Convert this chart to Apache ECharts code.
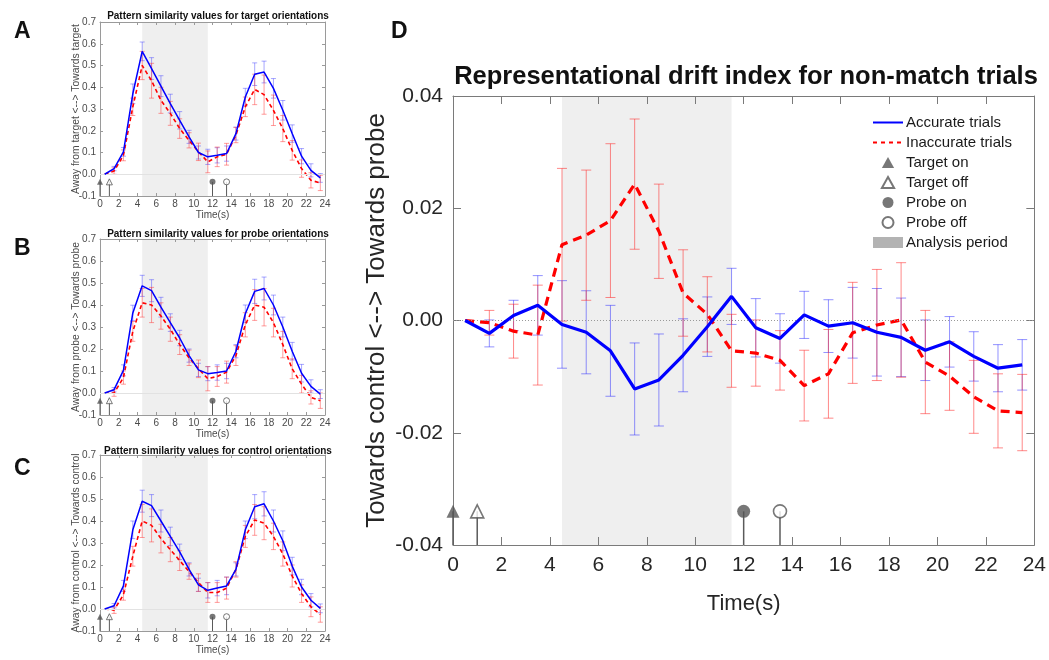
<!DOCTYPE html>
<html>
<head>
<meta charset="utf-8">
<script src="https://cdn.jsdelivr.net/npm/echarts@6/dist/echarts.min.js"></script>
<style>
  html, body { margin: 0; background: #fff; }
  #main { width: 1049px; height: 660px; }
</style>
</head>
<body>
<div id="main"></div>
<script>
var FONT = 'Liberation Sans, Arial, Helvetica, sans-serif';

// time bins (s)
var times = [0.5, 1.5, 2.5, 3.5, 4.5, 5.5, 6.5, 7.5, 8.5, 9.5, 10.5, 11.5,
             12.5, 13.5, 14.5, 15.5, 16.5, 17.5, 18.5, 19.5, 20.5, 21.5, 22.5, 23.5];
var eventTimes = [0, 1, 12, 13.5];
var eventNames = ['Target on', 'Target off', 'Probe on', 'Probe off'];
var analysisPeriod = [4.5, 11.5];
var markerLevelSmall = -0.035;
var markerLevelDrift = -0.034;

// A - target orientations
var targetAcc = [0.000, 0.026, 0.103, 0.370, 0.565, 0.486, 0.405, 0.325, 0.248, 0.172, 0.100, 0.080,
                 0.087, 0.095, 0.187, 0.355, 0.460, 0.470, 0.395, 0.294, 0.187, 0.083, 0.018, -0.017];
var targetAccErr = [0.000, 0.010, 0.020, 0.045, 0.043, 0.050, 0.048, 0.043, 0.040, 0.030, 0.030, 0.035,
                    0.035, 0.035, 0.030, 0.040, 0.052, 0.050, 0.045, 0.045, 0.040, 0.035, 0.030, 0.020];
var targetInacc = [0.000, 0.015, 0.087, 0.310, 0.500, 0.430, 0.340, 0.280, 0.210, 0.156, 0.103, 0.057,
                   0.080, 0.092, 0.180, 0.310, 0.390, 0.366, 0.294, 0.210, 0.110, 0.026, -0.028, -0.040];
var targetInaccErr = [0.000, 0.015, 0.025, 0.040, 0.065, 0.080, 0.060, 0.055, 0.045, 0.035, 0.040, 0.050,
                      0.045, 0.050, 0.035, 0.045, 0.070, 0.090, 0.070, 0.060, 0.045, 0.040, 0.035, 0.035];

// B - probe orientations
var probeAcc = [0.000, 0.015, 0.103, 0.364, 0.487, 0.465, 0.390, 0.320, 0.250, 0.170, 0.105, 0.088,
                0.093, 0.100, 0.190, 0.360, 0.462, 0.475, 0.400, 0.300, 0.190, 0.090, 0.030, -0.005];
var probeAccErr = [0.000, 0.010, 0.025, 0.035, 0.048, 0.050, 0.045, 0.040, 0.035, 0.030, 0.030, 0.032,
                   0.035, 0.035, 0.030, 0.040, 0.055, 0.052, 0.045, 0.045, 0.040, 0.040, 0.030, 0.020];
var probeInacc = [0.000, 0.000, 0.070, 0.280, 0.410, 0.400, 0.350, 0.290, 0.220, 0.160, 0.110, 0.065,
                  0.075, 0.095, 0.170, 0.310, 0.400, 0.390, 0.320, 0.220, 0.110, 0.040, -0.020, -0.035];
var probeInaccErr = [0.000, 0.015, 0.030, 0.045, 0.065, 0.080, 0.060, 0.055, 0.045, 0.035, 0.040, 0.055,
                     0.045, 0.050, 0.045, 0.055, 0.070, 0.085, 0.065, 0.060, 0.045, 0.040, 0.030, 0.035];

// C - control orientations
var controlAcc = [0.000, 0.015, 0.105, 0.360, 0.490, 0.470, 0.400, 0.330, 0.260, 0.180, 0.110, 0.085,
                  0.095, 0.105, 0.180, 0.360, 0.465, 0.478, 0.400, 0.310, 0.195, 0.100, 0.040, 0.003];
var controlAccErr = [0.000, 0.010, 0.025, 0.040, 0.050, 0.050, 0.050, 0.042, 0.035, 0.030, 0.030, 0.035,
                     0.035, 0.040, 0.030, 0.040, 0.055, 0.055, 0.050, 0.045, 0.040, 0.035, 0.030, 0.020];
var controlInacc = [0.000, -0.005, 0.065, 0.240, 0.400, 0.380, 0.320, 0.270, 0.220, 0.170, 0.120, 0.075,
                    0.075, 0.095, 0.180, 0.330, 0.405, 0.390, 0.330, 0.250, 0.150, 0.070, 0.010, -0.025];
var controlInaccErr = [0.000, 0.015, 0.025, 0.045, 0.075, 0.075, 0.065, 0.055, 0.045, 0.035, 0.040, 0.045,
                       0.045, 0.050, 0.035, 0.050, 0.070, 0.075, 0.060, 0.055, 0.050, 0.040, 0.045, 0.035];

// D - representational drift index, non-match trials
var driftAcc = [0, -0.0023, 0.0009, 0.0027, -0.0007, -0.0021, -0.0054, -0.0122, -0.0106, -0.0062, -0.0011, 0.0043,
                -0.0013, -0.0032, 0.0010, -0.0010, -0.0004, -0.0021, -0.0030, -0.0053, -0.0038, -0.0064, -0.0085, -0.0079];
var driftAccErr = [0, 0.0024, 0.0027, 0.0053, 0.0078, 0.0074, 0.0081, 0.0082, 0.0082, 0.0065, 0.0053, 0.0050,
                   0.0052, 0.0044, 0.0042, 0.0047, 0.0063, 0.0078, 0.0070, 0.0054, 0.0045, 0.0044, 0.0042, 0.0045];
var driftInacc = [0, -0.0004, -0.0019, -0.0026, 0.0135, 0.0152, 0.0178, 0.0243, 0.0159, 0.0049, 0.0011, -0.0054,
                  -0.0058, -0.0071, -0.0116, -0.0095, -0.0022, -0.0008, 0.0001, -0.0074, -0.0099, -0.0136, -0.0161, -0.0164];
var driftInaccErr = [0, 0.0022, 0.0048, 0.0089, 0.0136, 0.0116, 0.0137, 0.0116, 0.0084, 0.0077, 0.0067, 0.0065,
                     0.0059, 0.0053, 0.0063, 0.0079, 0.0090, 0.0099, 0.0102, 0.0092, 0.0061, 0.0065, 0.0066, 0.0068];

var chart = echarts.init(document.getElementById('main'));

function toPts(m) {
  return times.map(function (t, i) { return [t, m[i]]; });
}
function toBars(m, e) {
  return times.map(function (t, i) { return [t, m[i] - e[i], m[i] + e[i]]; });
}

function errBar(cap, w) {
  return function (params, api) {
    var x = api.value(0);
    var lo = api.coord([x, api.value(1)]);
    var hi = api.coord([x, api.value(2)]);
    if (Math.abs(hi[1] - lo[1]) < 0.5) return { type: 'group', children: [] };
    var st = { stroke: api.visual('color'), lineWidth: w };
    return {
      type: 'group',
      children: [
        { type: 'line', shape: { x1: lo[0], y1: lo[1], x2: hi[0], y2: hi[1] }, style: st },
        { type: 'line', shape: { x1: lo[0] - cap, y1: lo[1], x2: lo[0] + cap, y2: lo[1] }, style: st },
        { type: 'line', shape: { x1: hi[0] - cap, y1: hi[1], x2: hi[0] + cap, y2: hi[1] }, style: st }
      ]
    };
  };
}

function shadeRender(params, api) {
  var a = api.coord([api.value(0), 0]);
  var b = api.coord([api.value(1), 0]);
  var cs = params.coordSys;
  return {
    type: 'rect',
    shape: { x: a[0], y: cs.y, width: b[0] - a[0], height: cs.height },
    style: { fill: api.visual('color') }
  };
}

function stemRender(w) {
  return function (params, api) {
    var p = api.coord([api.value(0), api.value(1)]);
    var cs = params.coordSys;
    return {
      type: 'line',
      shape: { x1: p[0], y1: p[1], x2: p[0], y2: cs.y + cs.height },
      style: { stroke: '#5a5a5a', lineWidth: w }
    };
  };
}

var grids = [
  { left: 100, top: 22, width: 225, height: 174 },
  { left: 100, top: 239, width: 225, height: 176 },
  { left: 100, top: 455, width: 225, height: 176 },
  { left: 453, top: 96, width: 583, height: 449 }
];

var yNames = [
  'Away from target <--> Towards target',
  'Away from probe <--> Towards probe',
  'Away from control <--> Towards control',
  'Towards control <--> Towards probe'
];

var xAxes = [], yAxes = [], series = [];

grids.forEach(function (g, k) {
  var big = k === 3;
  var axCol = big ? '#7a7a7a' : '#9a9a9a';
  var line = { onZero: false, lineStyle: { color: axCol, width: 1 } };
  var tick = { inside: true, length: big ? 8 : 3, lineStyle: { color: axCol } };
  var lbl = { fontFamily: FONT, fontSize: big ? 21 : 10, color: big ? '#262626' : '#4a4a4a' };
  xAxes.push({
    gridIndex: k, type: 'value', min: 0, max: 24, interval: 2,
    name: 'Time(s)', nameLocation: 'middle', nameGap: big ? 48 : 14, nameMoveOverlap: false,
    nameTextStyle: { fontFamily: FONT, fontSize: big ? 22 : 10, color: big ? '#262626' : '#4a4a4a' },
    axisLine: line, axisTick: tick,
    axisLabel: Object.assign({}, lbl, { margin: big ? 10 : 3 }),
    splitLine: { show: false }
  });
  xAxes.push({
    gridIndex: k, type: 'value', min: 0, max: 24, interval: 2, position: 'top',
    axisLine: line, axisTick: tick,
    axisLabel: { show: false }, splitLine: { show: false }
  });
  var ymin = big ? -0.04 : -0.1, ymax = big ? 0.04 : 0.7, yint = big ? 0.02 : 0.1;
  yAxes.push({
    gridIndex: k, type: 'value', min: ymin, max: ymax, interval: yint,
    name: yNames[k], nameLocation: 'middle', nameGap: big ? 63 : 19, nameRotate: 90,
    nameMoveOverlap: false,
    nameTextStyle: { fontFamily: FONT, fontSize: big ? 26 : 10.3, color: big ? '#262626' : '#4a4a4a' },
    axisLine: line, axisTick: tick,
    axisLabel: Object.assign({}, lbl, {
      margin: big ? 10 : 4,
      formatter: function (v) { return v.toFixed(big ? 2 : 1); }
    }),
    splitLine: { show: false }
  });
  yAxes.push({
    gridIndex: k, type: 'value', min: ymin, max: ymax, interval: yint, position: 'right',
    axisLine: line, axisTick: tick,
    axisLabel: { show: false }, splitLine: { show: false }
  });
});

var panels = [
  [targetAcc, targetAccErr, targetInacc, targetInaccErr],
  [probeAcc, probeAccErr, probeInacc, probeInaccErr],
  [controlAcc, controlAccErr, controlInacc, controlInaccErr],
  [driftAcc, driftAccErr, driftInacc, driftInaccErr]
];

var triPath = 'path://M5,0 L10,9 L0,9 Z';
var circPath = 'path://M10,5 A5,5 0 1 1 0,5 A5,5 0 1 1 10,5 Z';
var markerSymbols = [triPath, triPath, circPath, circPath];
var markerFilled = [true, false, true, false];

panels.forEach(function (p, k) {
  var big = k === 3;
  var xi = 2 * k, yi = 2 * k;
  var tag = big ? '' : ' #' + k;
  var level = big ? markerLevelDrift : markerLevelSmall;

  series.push({
    type: 'custom', name: big ? 'Analysis period' : 'shade' + tag,
    xAxisIndex: xi, yAxisIndex: yi, z: 0, silent: true,
    itemStyle: { color: '#efefef' },
    renderItem: shadeRender, data: [analysisPeriod]
  });
  series.push({
    type: 'custom', name: 'stems' + k, xAxisIndex: xi, yAxisIndex: yi, z: 2, silent: true,
    renderItem: stemRender(big ? 1.5 : 1),
    data: eventTimes.map(function (t) { return [t, level]; })
  });
  series.push({
    type: 'custom', name: 'acc err' + k, xAxisIndex: xi, yAxisIndex: yi, z: 3, silent: true,
    itemStyle: { color: big ? 'rgba(40,40,255,0.5)' : 'rgba(60,60,255,0.45)' },
    renderItem: errBar(big ? 5 : 2.5, 1), data: toBars(p[0], p[1])
  });
  series.push({
    type: 'custom', name: 'inacc err' + k, xAxisIndex: xi, yAxisIndex: yi, z: 3, silent: true,
    itemStyle: { color: big ? 'rgba(255,40,40,0.55)' : 'rgba(255,60,60,0.5)' },
    renderItem: errBar(big ? 5 : 2.5, 1), data: toBars(p[2], p[3])
  });
  series.push({
    type: 'line', name: big ? 'Inaccurate trials' : 'inacc' + tag,
    xAxisIndex: xi, yAxisIndex: yi, z: 4, symbol: 'none', silent: true,
    itemStyle: { color: '#ff0000' },
    lineStyle: { color: '#ff0000', width: big ? 3.2 : 1.6, type: big ? [9, 6] : [4, 3] },
    data: toPts(p[2])
  });
  series.push({
    type: 'line', name: big ? 'Accurate trials' : 'acc' + tag,
    xAxisIndex: xi, yAxisIndex: yi, z: 5, symbol: 'none', silent: true,
    itemStyle: { color: '#0000ff' },
    lineStyle: { color: '#0000ff', width: big ? 3.2 : 1.5 },
    markLine: {
      silent: true, symbol: 'none', label: { show: false },
      lineStyle: big ? { color: '#999', width: 1, type: [1, 2] } : { color: '#e2e2e2', width: 1, type: 'solid' },
      data: [{ yAxis: 0 }]
    },
    data: toPts(p[0])
  });
  eventTimes.forEach(function (t, j) {
    series.push({
      type: 'scatter', name: big ? eventNames[j] : eventNames[j] + tag,
      xAxisIndex: xi, yAxisIndex: yi, z: 6, silent: true,
      symbol: markerSymbols[j], symbolSize: big ? 13 : 6,
      itemStyle: markerFilled[j]
        ? { color: '#555555' }
        : { color: '#ffffff', borderColor: '#555555', borderWidth: big ? 1.6 : 1 },
      data: [[t, level]]
    });
  });
});

var titleFont = { fontFamily: FONT, fontWeight: 'bold', color: '#111' };

var option = {
  animation: false,
  backgroundColor: '#ffffff',
  title: [
    { text: 'A', left: 9, top: 15, textStyle: Object.assign({ fontSize: 23 }, titleFont) },
    { text: 'B', left: 9, top: 232, textStyle: Object.assign({ fontSize: 23 }, titleFont) },
    { text: 'C', left: 9, top: 452, textStyle: Object.assign({ fontSize: 23 }, titleFont) },
    { text: 'D', left: 386, top: 15, textStyle: Object.assign({ fontSize: 23 }, titleFont) },
    { text: 'Pattern similarity values for target orientations', left: 213, top: 6, textAlign: 'center',
      textStyle: Object.assign({ fontSize: 10 }, titleFont) },
    { text: 'Pattern similarity values for probe orientations', left: 213, top: 224, textAlign: 'center',
      textStyle: Object.assign({ fontSize: 10 }, titleFont) },
    { text: 'Pattern similarity values for control orientations', left: 213, top: 441, textAlign: 'center',
      textStyle: Object.assign({ fontSize: 10 }, titleFont) },
    { text: 'Representational drift index for non-match trials', left: 741, top: 59, textAlign: 'center',
      textStyle: Object.assign({ fontSize: 25.5 }, titleFont) }
  ],
  legend: {
    orient: 'vertical', left: 867, top: 110,
    itemWidth: 30, itemHeight: 11, itemGap: 5,
    selectedMode: false,
    textStyle: { fontFamily: FONT, fontSize: 15, color: '#1a1a1a', padding: [0, 0, 0, -2] },
    data: [
      { name: 'Accurate trials', itemStyle: { opacity: 0 }, lineStyle: { width: 2 } },
      { name: 'Inaccurate trials', itemStyle: { opacity: 0 }, lineStyle: { width: 2, type: [4, 4] } },
      'Target on', 'Target off', 'Probe on', 'Probe off',
      { name: 'Analysis period', icon: 'rect', itemStyle: { color: '#b3b3b3' } }
    ]
  },
  grid: grids,
  xAxis: xAxes,
  yAxis: yAxes,
  series: series
};

chart.setOption(option);
</script>
</body>
</html>
